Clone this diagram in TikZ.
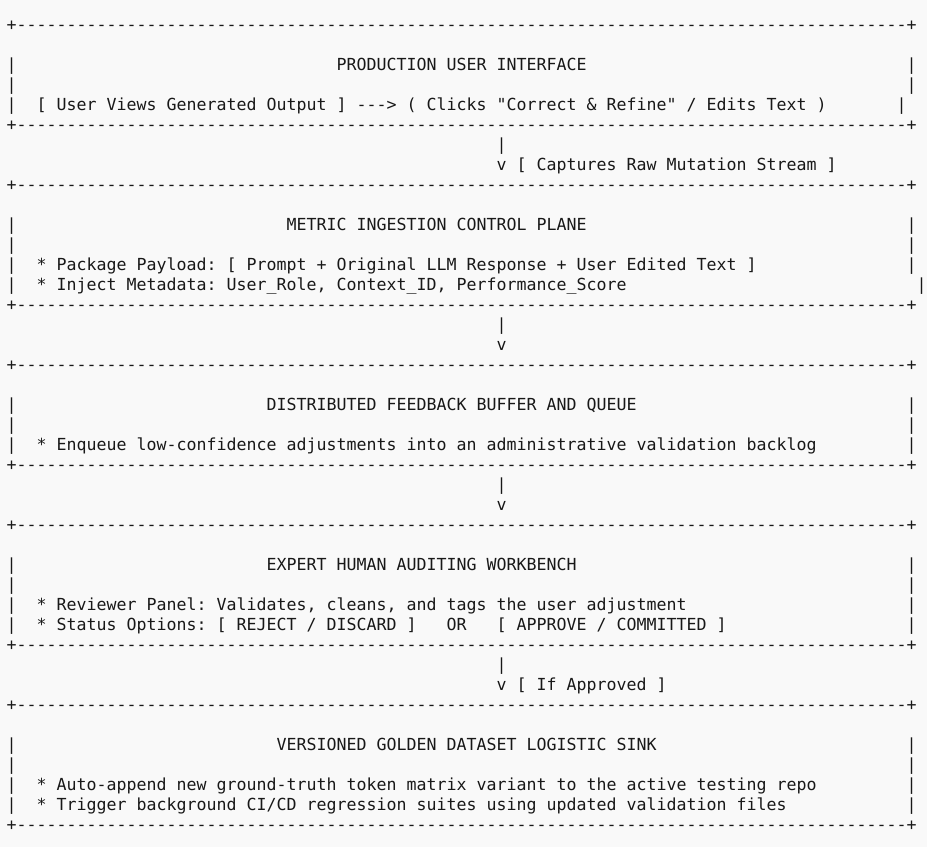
\documentclass[tikz,border=0pt]{standalone}
\usepackage{fontspec}
\setmonofont{DejaVu Sans Mono}
\definecolor{paper}{RGB}{249,249,249}
\definecolor{ink}{RGB}{24,24,24}
\newcommand\ascfont{\ttfamily\fontsize{16.61pt}{20pt}\selectfont\frenchspacing}
\newcommand\dten{----------}
\newcommand\borderline{+\dten\dten\dten\dten\dten\dten\dten\dten---------+}
\tikzset{
  ln/.style={anchor=base west, inner sep=0pt, outer sep=0pt, font=\ascfont, text=ink}
}
% \cellat{name}{column}{row}{text}
\newcommand\cellat[4]{\node[ln] (#1) at ({(6.7+10*(#2-1))*1pt},{-(30+20*(#3-1))*1pt}) {#4};}
\begin{document}
\begin{tikzpicture}
\fill[paper] (0,0) rectangle (927pt,-847pt);
\useasboundingbox (0,0) rectangle (927pt,-847pt);

% ---- Production user interface
\cellat{b1}{1}{1}{\borderline}
\cellat{p3l}{1}{3}{|}
\cellat{p3t}{34}{3}{PRODUCTION USER INTERFACE}
\cellat{p3r}{91}{3}{|}
\cellat{p4l}{1}{4}{|}
\cellat{p4r}{91}{4}{|}
\cellat{p5l}{1}{5}{|}
\cellat{p5t}{4}{5}{[ User Views Generated Output ] ---> ( Clicks "Correct \& Refine" / Edits Text )}
\cellat{p5r}{90}{5}{|}
\cellat{b6}{1}{6}{\borderline}
\cellat{a7}{50}{7}{|}
\cellat{a8}{50}{8}{v [ Captures Raw Mutation Stream ]}

% ---- Metric ingestion control plane
\cellat{b9}{1}{9}{\borderline}
\cellat{m11l}{1}{11}{|}
\cellat{m11t}{29}{11}{METRIC INGESTION CONTROL PLANE}
\cellat{m11r}{91}{11}{|}
\cellat{m12l}{1}{12}{|}
\cellat{m12r}{91}{12}{|}
\cellat{m13l}{1}{13}{|}
\cellat{m13t}{4}{13}{* Package Payload: [ Prompt + Original LLM Response + User Edited Text ]}
\cellat{m13r}{91}{13}{|}
\cellat{m14l}{1}{14}{|}
\cellat{m14t}{4}{14}{* Inject Metadata: User\_Role, Context\_ID, Performance\_Score}
\cellat{m14r}{92}{14}{|}
\cellat{b15}{1}{15}{\borderline}
\cellat{a16}{50}{16}{|}
\cellat{a17}{50}{17}{v}

% ---- Distributed feedback buffer
\cellat{b18}{1}{18}{\borderline}
\cellat{d20l}{1}{20}{|}
\cellat{d20t}{27}{20}{DISTRIBUTED FEEDBACK BUFFER AND QUEUE}
\cellat{d20r}{91}{20}{|}
\cellat{d21l}{1}{21}{|}
\cellat{d21r}{91}{21}{|}
\cellat{d22l}{1}{22}{|}
\cellat{d22t}{4}{22}{* Enqueue low-confidence adjustments into an administrative validation backlog}
\cellat{d22r}{91}{22}{|}
\cellat{b23}{1}{23}{\borderline}
\cellat{a24}{50}{24}{|}
\cellat{a25}{50}{25}{v}

% ---- Expert human auditing workbench
\cellat{b26}{1}{26}{\borderline}
\cellat{e28l}{1}{28}{|}
\cellat{e28t}{27}{28}{EXPERT HUMAN AUDITING WORKBENCH}
\cellat{e28r}{91}{28}{|}
\cellat{e29l}{1}{29}{|}
\cellat{e29r}{91}{29}{|}
\cellat{e30l}{1}{30}{|}
\cellat{e30t}{4}{30}{* Reviewer Panel: Validates, cleans, and tags the user adjustment}
\cellat{e30r}{91}{30}{|}
\cellat{e31l}{1}{31}{|}
\cellat{e31t}{4}{31}{* Status Options: [ REJECT / DISCARD ]}
\cellat{e31o}{45}{31}{OR}
\cellat{e31u}{50}{31}{[ APPROVE / COMMITTED ]}
\cellat{e31r}{91}{31}{|}
\cellat{b32}{1}{32}{\borderline}
\cellat{a33}{50}{33}{|}
\cellat{a34}{50}{34}{v [ If Approved ]}

% ---- Versioned golden dataset logistic sink
\cellat{b35}{1}{35}{\borderline}
\cellat{v37l}{1}{37}{|}
\cellat{v37t}{28}{37}{VERSIONED GOLDEN DATASET LOGISTIC SINK}
\cellat{v37r}{91}{37}{|}
\cellat{v38l}{1}{38}{|}
\cellat{v38r}{91}{38}{|}
\cellat{v39l}{1}{39}{|}
\cellat{v39t}{4}{39}{* Auto-append new ground-truth token matrix variant to the active testing repo}
\cellat{v39r}{91}{39}{|}
\cellat{v40l}{1}{40}{|}
\cellat{v40t}{4}{40}{* Trigger background CI/CD regression suites using updated validation files}
\cellat{v40r}{91}{40}{|}
\cellat{b41}{1}{41}{\borderline}
\end{tikzpicture}
\end{document}
